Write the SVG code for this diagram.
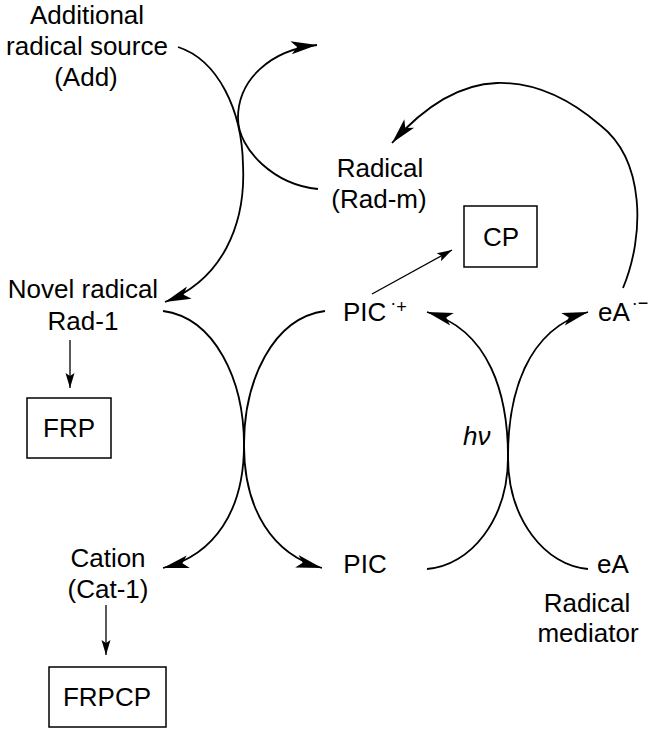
<svg xmlns="http://www.w3.org/2000/svg" width="658" height="732" viewBox="0 0 658 732">
<style>
text{font-family:"Liberation Sans",Arial,sans-serif;font-size:26px;fill:#000}
.m{text-anchor:middle}
.arc{fill:none;stroke:#000;stroke-width:1.8}
.thin{fill:none;stroke:#000;stroke-width:1.3}
.box{fill:#fff;stroke:#000;stroke-width:1.5}
</style>
<defs>
<marker id="ah" markerUnits="userSpaceOnUse" markerWidth="30" markerHeight="16" viewBox="-28 -8 30 16" refX="0" refY="0" orient="auto">
<path d="M0,0 L-26,-6.5 L-20,0 L-26,6.5 Z" fill="#000"/>
</marker>
<marker id="as" markerUnits="userSpaceOnUse" markerWidth="18" markerHeight="12" viewBox="-16 -6 17 12" refX="0" refY="0" orient="auto">
<path d="M0,0 L-15,-4.5 L-12,0 L-15,4.5 Z" fill="#000"/>
</marker>
</defs>
<rect width="658" height="732" fill="#fff"/>
<g id="connectors">
<path class="arc" d="M178,47 C218,60 242,110 243,165 C246,225 222,280 165,302" marker-end="url(#ah)"/>
<path class="arc" d="M318,189 C275,185 238,150 238,118 C238,80 270,50 317,45" marker-end="url(#ah)"/>
<path class="arc" d="M623,288 C645,235 645,160 600,125 C565,95 530,82 497,83 C465,84 430,100 392,143" marker-end="url(#ah)"/>
<path class="arc" d="M163,311 C215,318 244,380 244,445 C244,510 215,555 163,568" marker-end="url(#ah)"/>
<path class="arc" d="M325,311 C273,318 244,380 244,445 C244,510 273,555 322,568" marker-end="url(#ah)"/>
<path class="arc" d="M427,569 C470,566 508,520 508,457 C508,395 490,330 427,312" marker-end="url(#ah)"/>
<path class="arc" d="M588,569 C546,566 508,520 508,457 C508,395 526,330 588,312" marker-end="url(#ah)"/>
<path class="thin" d="M70,340 L70,388" marker-end="url(#as)"/>
<path class="thin" d="M106,605 L106,655" marker-end="url(#as)"/>
<path class="thin" d="M372,294 L452,250" marker-end="url(#as)"/>
</g>
<g id="add"><text class="m" x="87" y="24">Additional</text><text class="m" x="87" y="55">radical source</text><text class="m" x="86" y="86">(Add)</text></g>
<g id="radm"><text class="m" x="380" y="177">Radical</text><text class="m" x="379" y="208">(Rad-m)</text></g>
<g id="cp"><rect class="box" x="464" y="206" width="73" height="61"/><text class="m" x="501" y="246">CP</text></g>
<g id="rad1"><text class="m" x="83" y="298">Novel radical</text><text class="m" x="83" y="330">Rad-1</text></g>
<g id="picplus"><text x="343" y="321">PIC<tspan font-size="18" dx="4" dy="-12">·</tspan><tspan font-size="18" dy="4">+</tspan></text></g>
<g id="eaminus"><text x="598" y="321">eA<tspan font-size="18" dx="2" dy="-12">·</tspan><tspan font-size="18" dy="0">−</tspan></text></g>
<g id="frp"><rect class="box" x="27" y="398" width="84" height="60"/><text class="m" x="69" y="437">FRP</text></g>
<g id="hv"><text x="463" y="445" font-style="italic">hν</text></g>
<g id="cat1"><text class="m" x="108" y="567">Cation</text><text class="m" x="108" y="598">(Cat-1)</text></g>
<g id="pic"><text class="m" x="365" y="573">PIC</text></g>
<g id="ea"><text x="597" y="573">eA</text><text class="m" x="587" y="612">Radical</text><text class="m" x="588" y="642">mediator</text></g>
<g id="frpcp"><rect class="box" x="49" y="667" width="117" height="60"/><text class="m" x="107" y="706">FRPCP</text></g>
</svg>
